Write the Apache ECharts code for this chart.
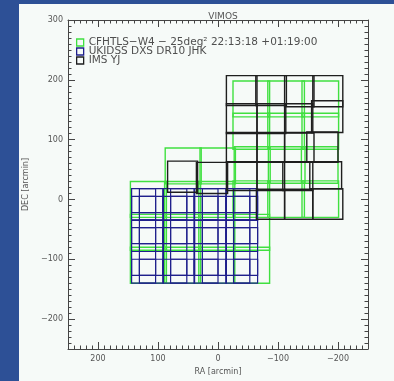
<!DOCTYPE html>
<html>
<head>
<meta charset="utf-8">
<script src="https://cdn.jsdelivr.net/npm/echarts@6/dist/echarts.min.js"></script>
<style>
  html, body { margin: 0; padding: 0; background: #2d5096; }
  #chart { width: 394px; height: 381px; }
</style>
</head>
<body>
<div id="chart"></div>
<script>
// Survey footprints, each field as [RA left, RA right, DEC bottom, DEC top] in arcmin
const cfhtlsFields = [
  [-25, -86, 138, 198], [-83, -144, 138, 198], [-140, -201, 138, 198],
  [-25, -86, 84, 144], [-83, -144, 84, 144], [-140, -201, 84, 144],
  [-27, -87, 27, 88], [-84, -145, 27, 88], [-139, -200, 27, 88],
  [-25, -86, -30, 31], [-83, -144, -30, 31], [-140, -201, -30, 31],
  [88, 28, 26, 86], [30, -29, 26, 86],
  [146, 86, -30, 30], [89, 29, -30, 30], [32, -28, -30, 30],
  [146, 86, -85, -25], [89, 29, -85, -25], [32, -28, -85, -25], [-26, -86, -85, -25],
  [146, 86, -140, -80], [89, 29, -140, -80], [32, -28, -140, -80], [-26, -86, -140, -80]
];

const dxsFields = [
  // row 1
  [144, 104, -22, 18], [131, 91, -22, 18], [144, 104, -35, 5], [131, 91, -35, 5],
  [92, 52, -22, 18], [79, 39, -22, 18], [92, 52, -35, 5], [79, 39, -35, 5],
  [40, 0, -22, 18], [26, -14, -22, 18], [40, 0, -35, 5], [26, -14, -35, 5],
  [-13, -53, -22, 18], [-26, -66, -22, 18], [-13, -53, -35, 5], [-26, -66, -35, 5],
  // row 2
  [144, 104, -74, -34], [131, 91, -74, -34], [144, 104, -87, -47], [131, 91, -87, -47],
  [92, 52, -74, -34], [79, 39, -74, -34], [92, 52, -87, -47], [79, 39, -87, -47],
  [40, 0, -74, -34], [26, -14, -74, -34], [40, 0, -87, -47], [26, -14, -87, -47],
  [-13, -53, -74, -34], [-26, -66, -74, -34], [-13, -53, -87, -47], [-26, -66, -87, -47],
  // row 3
  [144, 104, -127, -87], [131, 91, -127, -87], [144, 104, -140, -100], [131, 91, -140, -100],
  [92, 52, -127, -87], [79, 39, -127, -87], [92, 52, -140, -100], [79, 39, -140, -100],
  [40, 0, -127, -87], [26, -14, -127, -87], [40, 0, -140, -100], [26, -14, -140, -100],
  [-13, -53, -127, -87], [-26, -66, -127, -87], [-13, -53, -140, -100], [-26, -66, -140, -100]
];

const imsFields = [
  [-14, -65, 157, 207], [-63, -114, 157, 207], [-111, -160, 155, 207], [-158, -208, 155, 207],
  [-14, -65, 110, 160], [-65, -113, 110, 160], [-111, -158, 112, 160], [-156, -208, 112, 165],
  [-14, -65, 62, 112], [-65, -111, 62, 112], [-111, -160, 63, 111], [-148, -200, 62, 113],
  [-14, -65, 15, 63], [-65, -111, 15, 63], [-108, -158, 15, 62], [-153, -206, 18, 63],
  [-64, -111, -33, 17], [-111, -158, -33, 17], [-158, -208, -33, 18],
  [84, 34, 12, 64], [36, -16, 10, 62]
];

const seriesNames = ['CFHTLS\u2212W4 \u2212 25deg\u00b2 22:13:18 +01:19:00', 'UKIDSS DXS DR10 JHK', 'IMS YJ'];
const raTicks = [200, 100, 0, -100, -200];
const decTicks = [-200, -100, 0, 100, 200, 300];

const colors = { green: '#40e040', blue: '#20208c', black: '#1e1e1e' };
const textColor = '#555';
const frameColor = '#444';

const minus = v => String(v).replace('-', '\u2212');

function rectRenderer(stroke, width) {
  return function (params, api) {
    const a = api.coord([api.value(0), api.value(3)]);
    const b = api.coord([api.value(1), api.value(2)]);
    return {
      type: 'rect',
      shape: {
        x: Math.min(a[0], b[0]), y: Math.min(a[1], b[1]),
        width: Math.abs(b[0] - a[0]), height: Math.abs(b[1] - a[1])
      },
      style: { fill: 'none', stroke: stroke, lineWidth: width }
    };
  };
}

const gridRect = { left: 68, right: 26, top: 20, bottom: 32 };

function majorAxis(extra) {
  return Object.assign({
    type: 'value', gridIndex: 0,
    axisLine: { show: true, onZero: false, lineStyle: { color: frameColor, width: 1 } },
    axisLabel: { show: false },
    splitLine: { show: false }
  }, extra);
}
function minorAxis(extra) {
  return Object.assign({
    type: 'value', gridIndex: 1, interval: 10,
    axisLine: { show: false, onZero: false },
    axisTick: { show: true, inside: true, length: 3.5, lineStyle: { color: frameColor } },
    axisLabel: { show: false },
    splitLine: { show: false }
  }, extra);
}
function majorTicks(values) {
  return { show: true, inside: true, length: 7, customValues: values, lineStyle: { color: frameColor } };
}

const labelStyle = { color: textColor, fontSize: 8, fontFamily: 'DejaVu Sans' };

const option = {
  backgroundColor: '#2d5096',
  animation: false,
  graphic: [{
    type: 'rect', z: -10, silent: true,
    shape: { x: 19, y: 4, width: 380, height: 380 },
    style: { fill: '#f6faf8' }
  }],
  title: {
    text: 'VIMOS', left: 218, top: 7, textAlign: 'center',
    textStyle: { color: textColor, fontSize: 9, fontWeight: 'normal', fontFamily: 'DejaVu Sans' }
  },
  legend: {
    orient: 'vertical', left: 76, top: 37, padding: 0, itemGap: -2,
    itemWidth: 7, itemHeight: 7,
    textStyle: { color: '#4f4f4f', fontSize: 10.5, fontFamily: 'DejaVu Sans' },
    data: [
      { name: seriesNames[0], icon: 'rect', itemStyle: { color: 'rgba(0,0,0,0)', borderColor: colors.green, borderWidth: 1.3 } },
      { name: seriesNames[1], icon: 'rect', itemStyle: { color: 'rgba(0,0,0,0)', borderColor: colors.blue, borderWidth: 1.3 } },
      { name: seriesNames[2], icon: 'rect', itemStyle: { color: 'rgba(0,0,0,0)', borderColor: colors.black, borderWidth: 1.3 } }
    ]
  },
  grid: [Object.assign({}, gridRect), Object.assign({}, gridRect)],
  xAxis: [
    majorAxis({
      position: 'bottom', inverse: true, min: -250, max: 250,
      axisTick: majorTicks(raTicks),
      axisLabel: Object.assign({ show: true, margin: 6, customValues: raTicks, formatter: minus }, labelStyle),
      name: 'RA [arcmin]', nameLocation: 'middle', nameGap: 19,
      nameTextStyle: labelStyle
    }),
    majorAxis({ position: 'top', inverse: true, min: -250, max: 250, axisTick: majorTicks(raTicks) }),
    minorAxis({ position: 'bottom', inverse: true, min: -250, max: 250 }),
    minorAxis({ position: 'top', inverse: true, min: -250, max: 250 })
  ],
  yAxis: [
    majorAxis({
      position: 'left', min: -250, max: 300,
      axisTick: majorTicks(decTicks),
      axisLabel: Object.assign({ show: true, margin: 5, customValues: decTicks, formatter: minus }, labelStyle),
      name: 'DEC [arcmin]', nameLocation: 'middle', nameGap: 32, nameRotate: 90,
      nameTextStyle: labelStyle
    }),
    majorAxis({ position: 'right', min: -250, max: 300, axisTick: majorTicks(decTicks) }),
    minorAxis({ position: 'left', min: -250, max: 300 }),
    minorAxis({ position: 'right', min: -250, max: 300 })
  ],
  series: [
    {
      name: seriesNames[0], type: 'custom', xAxisIndex: 0, yAxisIndex: 0,
      renderItem: rectRenderer(colors.green, 1.4),
      encode: { x: [0, 1], y: [2, 3] }, data: cfhtlsFields, z: 2
    },
    {
      name: seriesNames[1], type: 'custom', xAxisIndex: 0, yAxisIndex: 0,
      renderItem: rectRenderer(colors.blue, 1.2),
      encode: { x: [0, 1], y: [2, 3] }, data: dxsFields, z: 3
    },
    {
      name: seriesNames[2], type: 'custom', xAxisIndex: 0, yAxisIndex: 0,
      renderItem: rectRenderer(colors.black, 1.4),
      encode: { x: [0, 1], y: [2, 3] }, data: imsFields, z: 4
    }
  ]
};

const chart = echarts.init(document.getElementById('chart'), null, { renderer: 'canvas' });
chart.setOption(option);
</script>
</body>
</html>
